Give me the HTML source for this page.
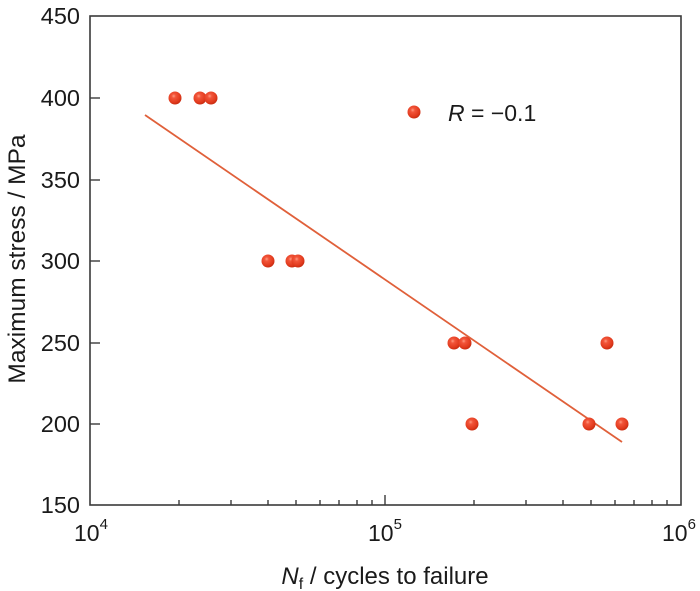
<!DOCTYPE html>
<html><head><meta charset="utf-8"><style>
html,body{margin:0;padding:0;background:#fff;}
svg{display:block;}
text{font-family:"Liberation Sans",Arial,sans-serif;fill:#1a1a1a;}
</style></head><body>
<svg width="700" height="591" viewBox="0 0 700 591" xmlns="http://www.w3.org/2000/svg">
<defs>
<radialGradient id="g" cx="0.4" cy="0.35" r="0.65">
<stop offset="0" stop-color="#ff9a80"/>
<stop offset="0.25" stop-color="#f2553a"/>
<stop offset="0.75" stop-color="#e23b1e"/>
<stop offset="1" stop-color="#c92d12"/>
</radialGradient>
</defs>
<rect x="90" y="16" width="591" height="489" fill="none" stroke="#3a3a3a" stroke-width="1.6"/>
<g stroke="#3a3a3a" stroke-width="1.4">
<line x1="90" y1="98" x2="100" y2="98"/>
<line x1="90" y1="180" x2="100" y2="180"/>
<line x1="90" y1="261" x2="100" y2="261"/>
<line x1="90" y1="343" x2="100" y2="343"/>
<line x1="90" y1="424" x2="100" y2="424"/>
<line x1="385" y1="505" x2="385" y2="495"/>
<line x1="179" y1="505" x2="179" y2="500"/>
<line x1="231" y1="505" x2="231" y2="500"/>
<line x1="268" y1="505" x2="268" y2="500"/>
<line x1="296" y1="505" x2="296" y2="500"/>
<line x1="320" y1="505" x2="320" y2="500"/>
<line x1="339" y1="505" x2="339" y2="500"/>
<line x1="357" y1="505" x2="357" y2="500"/>
<line x1="372" y1="505" x2="372" y2="500"/>
<line x1="474" y1="505" x2="474" y2="500"/>
<line x1="526" y1="505" x2="526" y2="500"/>
<line x1="563" y1="505" x2="563" y2="500"/>
<line x1="591" y1="505" x2="591" y2="500"/>
<line x1="615" y1="505" x2="615" y2="500"/>
<line x1="634" y1="505" x2="634" y2="500"/>
<line x1="652" y1="505" x2="652" y2="500"/>
<line x1="667" y1="505" x2="667" y2="500"/>
</g>
<g font-size="23.5" text-anchor="end">
<text x="80" y="24">450</text>
<text x="80" y="106">400</text>
<text x="80" y="188">350</text>
<text x="80" y="269">300</text>
<text x="80" y="351">250</text>
<text x="80" y="432">200</text>
<text x="80" y="513">150</text>
</g>
<g font-size="23">
<text x="74" y="541">10<tspan font-size="15" dy="-12">4</tspan></text>
<text x="368" y="541">10<tspan font-size="15" dy="-12">5</tspan></text>
<text x="662" y="541">10<tspan font-size="15" dy="-12">6</tspan></text>
</g>
<text font-size="24.5" text-anchor="middle" transform="translate(25,259) rotate(-90)">Maximum stress / MPa</text>
<text font-size="24" text-anchor="middle" x="385" y="584"><tspan font-style="italic">N</tspan><tspan font-size="16" dy="5">f</tspan><tspan dy="-5"> / cycles to failure</tspan></text>
<line x1="145" y1="115" x2="622" y2="442" stroke="#e0603a" stroke-width="1.8"/>
<g fill="url(#g)">
<circle cx="175" cy="98" r="6.5"/>
<circle cx="200" cy="98" r="6.5"/>
<circle cx="211" cy="98" r="6.5"/>
<circle cx="268" cy="261" r="6.5"/>
<circle cx="292" cy="261" r="6.5"/>
<circle cx="298" cy="261" r="6.5"/>
<circle cx="454" cy="343" r="6.5"/>
<circle cx="465" cy="343" r="6.5"/>
<circle cx="607" cy="343" r="6.5"/>
<circle cx="472" cy="424" r="6.5"/>
<circle cx="589" cy="424" r="6.5"/>
<circle cx="622" cy="424" r="6.5"/>
<circle cx="414" cy="112" r="6.5"/>
</g>
<text font-size="23" x="448" y="121"><tspan font-style="italic">R</tspan> = −0.1</text>
</svg>
</body></html>
